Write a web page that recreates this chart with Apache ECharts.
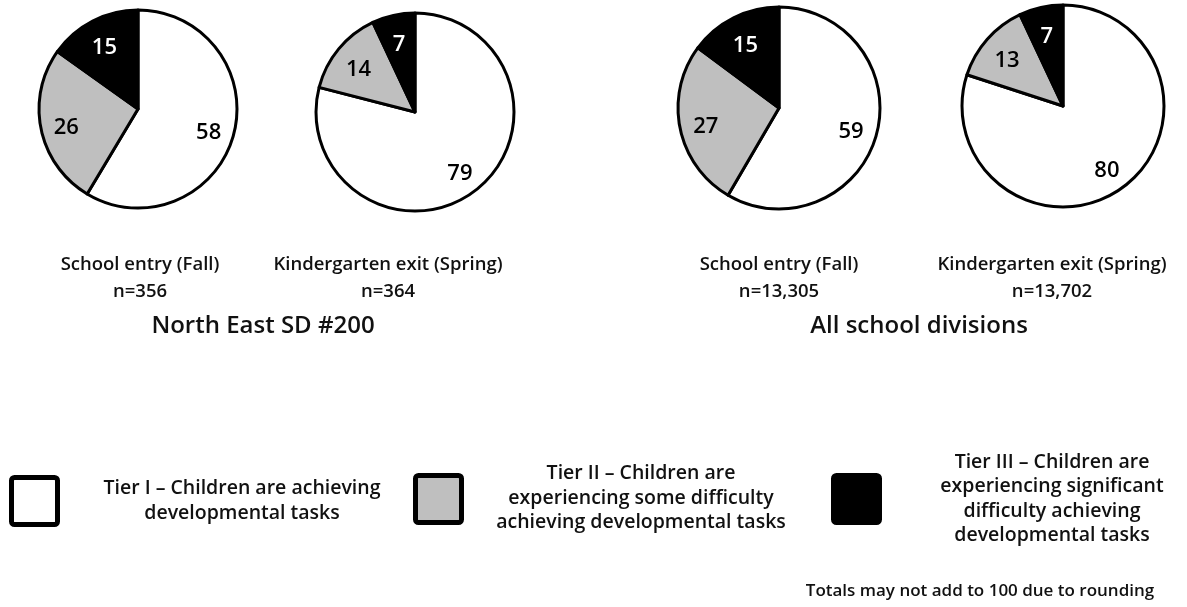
<!DOCTYPE html>
<html>
<head>
<meta charset="utf-8">
<script src="https://cdn.jsdelivr.net/npm/echarts@6/dist/echarts.min.js"></script>
<style>
  html, body { margin: 0; padding: 0; background: #fff; }
  #main { width: 1187px; height: 607px; }
</style>
</head>
<body>
<div id="main"></div>
<script>
// tiers, clockwise from 12 o'clock
const tierNames = [
  "Tier I \u2013 Children are achieving\ndevelopmental tasks",
  "Tier II \u2013 Children are\nexperiencing some difficulty\nachieving developmental tasks",
  "Tier III \u2013 Children are\nexperiencing significant\ndifficulty achieving\ndevelopmental tasks"
];
const tierColors = ["#ffffff", "#bfbfbf", "#000000"];
const tierLabelColors = ["#000000", "#000000", "#ffffff"];

// percentages per pie
const northEastFall = [58, 26, 15];
const northEastSpring = [79, 14, 7];
const allFall = [59, 27, 15];
const allSpring = [80, 13, 7];

const pieTitles = ["School entry (Fall)", "Kindergarten exit (Spring)", "School entry (Fall)", "Kindergarten exit (Spring)"];
const sampleSizes = ["n=356", "n=364", "n=13,305", "n=13,702"];
const groupTitles = ["North East SD #200", "All school divisions"];
const note = "Totals may not add to 100 due to rounding";

const font = "'Open Sans', Lato, sans-serif";

const pies = [
  { values: northEastFall, center: [138, 109], r: 99, titleX: 140 },
  { values: northEastSpring, center: [415, 112], r: 99, titleX: 388 },
  { values: allFall, center: [779, 108], r: 101, titleX: 779 },
  { values: allSpring, center: [1063, 106], r: 101, titleX: 1052 }
];

const series = [];
pies.forEach((p, i) => {
  // filled slices
  series.push({
    type: "pie",
    center: p.center,
    radius: [0, p.r],
    startAngle: 90,
    clockwise: true,
    silent: true,
    animation: false,
    label: { show: false },
    labelLine: { show: false },
    itemStyle: { borderColor: "#000", borderWidth: 3 },
    data: p.values.map((v, k) => ({ value: v, name: "t" + k, itemStyle: { color: tierColors[k] } }))
  });
  // labels at ~0.7 of the radius
  series.push({
    type: "pie",
    center: p.center,
    radius: [p.r * 0.42, p.r],
    startAngle: 90,
    clockwise: true,
    silent: true,
    animation: false,
    itemStyle: { color: "transparent", borderWidth: 0 },
    label: {
      show: true,
      position: "inside",
      formatter: "{c}",
      fontFamily: font,
      fontWeight: 600,
      fontSize: 22,
      offset: [0, 4]
    },
    labelLine: { show: false },
    data: p.values.map((v, k) => ({ value: v, name: "t" + k, label: { color: tierLabelColors[k] } }))
  });
});

const graphic = [];
pies.forEach((p, i) => {
  graphic.push({
    type: "text",
    x: p.titleX,
    y: 278,
    style: {
      text: pieTitles[i] + "\n" + sampleSizes[i],
      font: "600 18.5px " + font,
      fill: "#111",
      textAlign: "center",
      textVerticalAlign: "middle",
      lineHeight: 27
    }
  });
});
[263, 919].forEach((x, i) => {
  graphic.push({
    type: "text",
    x: x,
    y: 326,
    style: {
      text: groupTitles[i],
      font: "600 24px " + font,
      fill: "#111",
      textAlign: "center",
      textVerticalAlign: "middle"
    }
  });
});

// legend
const legendBoxes = [[9, 475], [413, 473], [831, 473]];
const legendText = [[242, 501], [641, 498], [1052, 499]];
tierNames.forEach((name, k) => {
  graphic.push({
    type: "rect",
    shape: { x: legendBoxes[k][0] + 2.5, y: legendBoxes[k][1] + 2.5, width: 46, height: 47, r: 3 },
    style: { fill: tierColors[k], stroke: "#000", lineWidth: 5 }
  });
  graphic.push({
    type: "text",
    x: legendText[k][0],
    y: legendText[k][1],
    style: {
      text: name,
      font: "600 19.5px " + font,
      fill: "#111",
      textAlign: "center",
      textVerticalAlign: "middle",
      lineHeight: 24.5
    }
  });
});
graphic.push({
  type: "text",
  x: 980,
  y: 591,
  style: {
    text: note,
    font: "600 17px " + font,
    fill: "#111",
    textAlign: "center",
    textVerticalAlign: "middle"
  }
});

const chart = echarts.init(document.getElementById("main"), null, { renderer: "canvas" });
chart.setOption({
  backgroundColor: "#fff",
  animation: false,
  series: series,
  graphic: graphic
});
</script>
</body>
</html>
